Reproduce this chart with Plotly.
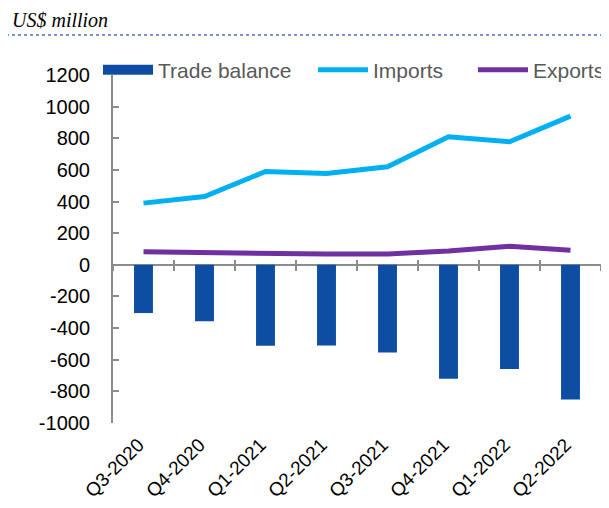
import plotly.graph_objects as go

categories = ["Q3-2020", "Q4-2020", "Q1-2021", "Q2-2021", "Q3-2021", "Q4-2021", "Q1-2022", "Q2-2022"]
trade_balance = [-305, -357, -512, -510, -555, -721, -658, -852]
imports = [390, 432, 590, 578, 620, 810, 778, 940]
exports = [82, 76, 76, 68, 68, 88, 117, 92]
y_ticks = list(range(-1000, 1201, 200))

# page has an 8px body margin, so the figure is drawn offset by (8, 8)
OFF = 8
W, H = 609 - OFF, 508 - OFF
L, R, T = 113 - OFF, 0, 75 - OFF
B = H - (423 - OFF)
pw = W - L - R
ph = H - T - B
X_RIGHT = 601  # screen x where the x axis ends
x_dom_end = (X_RIGHT - OFF - L) / pw
ymin, ymax = -1000, 1200
zero_pos = (0 - ymin) / (ymax - ymin)
BAR_COLOR = "#0D4EA2"
AXIS_GRAY = "#8C8C8C"


def px_x(sx):
    return (sx - OFF - L) / pw


def px_y(sy):
    return 1 - (sy - OFF - T) / ph


fig = go.Figure()
fig.add_trace(go.Bar(x=categories, y=trade_balance, name="Trade balance", showlegend=False,
                     marker=dict(color=BAR_COLOR, line=dict(width=0)), width=0.31))
# legend entry for the bar series (wide rectangle like the original)
fig.add_trace(go.Scatter(x=[None], y=[None], name="Trade balance", mode="lines",
                         line=dict(color=BAR_COLOR, width=12), legend="legend"))
fig.add_trace(go.Scatter(x=categories, y=imports, name="Imports", mode="lines",
                         line=dict(color="#00B0F0", width=5), legend="legend2"))
fig.add_trace(go.Scatter(x=categories, y=exports, name="Exports", mode="lines",
                         line=dict(color="#7030A0", width=5), legend="legend3"))

n = len(categories)
bounds = [i - 0.5 for i in range(n + 1)]

leg_common = dict(orientation="h", xanchor="left", yanchor="middle", y=px_y(70),
                  font=dict(size=21, color="#595959", family="Liberation Sans, Arial"),
                  bgcolor="rgba(0,0,0,0)", itemwidth=50, borderwidth=0)

helper_axis = dict(overlaying="x", anchor="free", position=zero_pos, range=[-0.5, n - 0.5],
                   domain=[0, x_dom_end], tickmode="array", tickvals=bounds,
                   showticklabels=False, ticklen=5, tickwidth=2, tickcolor=AXIS_GRAY,
                   showline=False, showgrid=False, zeroline=False)

fig.update_layout(
    width=W, height=H,
    margin=dict(l=L, r=R, t=T, b=B, autoexpand=False),
    paper_bgcolor="white", plot_bgcolor="white",
    font=dict(family="Liberation Sans, Arial", size=20, color="black"),
    showlegend=True,
    legend=dict(x=px_x(98), **leg_common),
    legend2=dict(x=px_x(313), **leg_common),
    legend3=dict(x=px_x(473), **leg_common),
    xaxis=dict(type="category", range=[-0.5, n - 0.5], domain=[0, x_dom_end],
               showline=False, showgrid=False,
               ticks="", tickangle=-45, tickfont=dict(size=19, color="black"),
               ticklabelstandoff=6, ticklabelshift=-5, zeroline=False),
    xaxis2=dict(ticks="outside", **helper_axis),
    xaxis3=dict(ticks="inside", **helper_axis),
    yaxis=dict(range=[ymin, ymax], tickmode="array", tickvals=y_ticks,
               ticktext=[str(v) for v in y_ticks], showgrid=False,
               showline=True, linecolor=AXIS_GRAY, linewidth=2,
               ticks="inside", ticklen=6, tickwidth=2, tickcolor=AXIS_GRAY,
               ticklabelstandoff=17,
               zeroline=True, zerolinecolor=AXIS_GRAY, zerolinewidth=2,
               tickfont=dict(size=20, color="black")),
    annotations=[dict(text="<i>US$ million</i>", xref="paper", yref="paper",
                      x=px_x(10), y=px_y(20), xanchor="left", yanchor="middle",
                      showarrow=False, font=dict(family="Liberation Serif, Times New Roman",
                                                 size=20, color="black"))],
    shapes=[dict(type="line", xref="paper", yref="paper", x0=px_x(0), x1=px_x(609),
                 y0=px_y(35), y1=px_y(35),
                 line=dict(color="#4472C4", width=1.5, dash="dot"))],
)

# invisible traces to activate helper tick axes on the zero line
fig.add_trace(go.Scatter(x=[0], y=[0], xaxis="x2", mode="markers", marker=dict(opacity=0),
                         showlegend=False, hoverinfo="skip"))
fig.add_trace(go.Scatter(x=[0], y=[0], xaxis="x3", mode="markers", marker=dict(opacity=0),
                         showlegend=False, hoverinfo="skip"))

fig.write_html("out.html")
